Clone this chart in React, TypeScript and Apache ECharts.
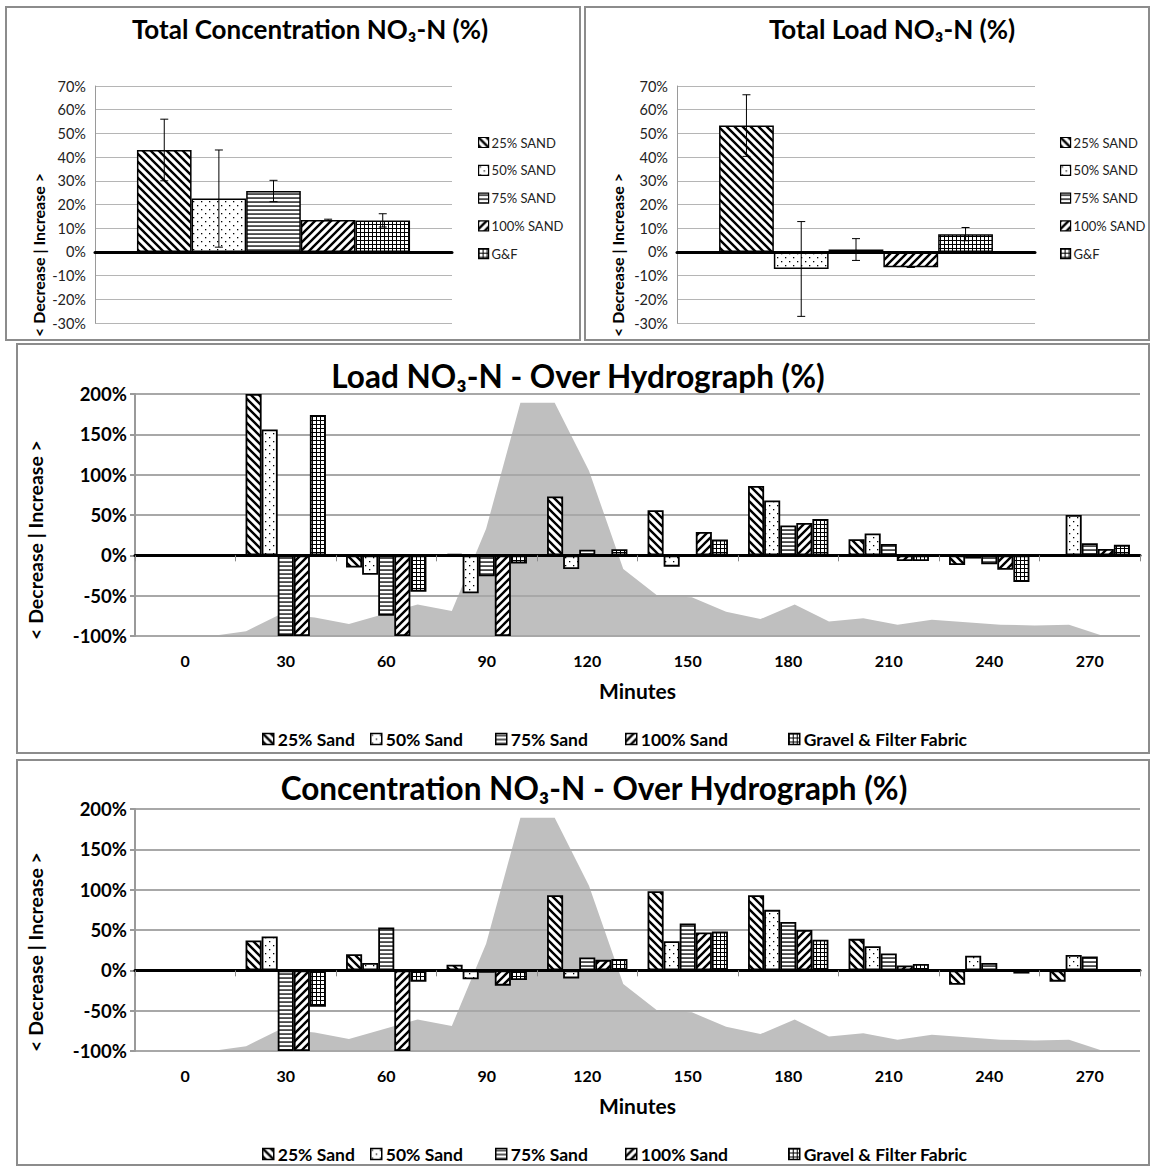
import React, { useEffect, useRef } from 'react';
import * as echarts from 'echarts';

// ---------- DATA ----------
const totalCategory = ['Total'];
const topNames = ['25% SAND', '50% SAND', '75% SAND', '100% SAND', 'G&F'];
const totalConc = [43, 22.5, 25.7, 13.5, 13.3];
const totalConcErr = [13, 20.5, 4.5, 0.3, 2.8];
const totalLoad = [53.3, -7.2, 1, -6.5, 7.5];
const totalLoadErr = [13, 20, 4.6, 0, 2.8];

const minutes = ['0', '30', '60', '90', '120', '150', '180', '210', '240', '270'];
const hydroNames = ['25% Sand', '50% Sand', '75% Sand', '100% Sand', 'Gravel & Filter Fabric'];

const load25 = [0, 200, -15, 2, 73, 56, 86, 20, -12, 0];
const load50 = [0, 156, -24, -47, -17, -14, 68, 27, -4, 50];
const load75 = [0, -100, -75, -26, 7, 0, 37, 14, -11, 15];
const load100 = [0, -100, -100, -100, 0, 29, 40, -7, -18, 8];
const loadGF = [0, 174, -45, -10, 7.5, 19.5, 45, -7, -33, 13];

const conc25 = [0, 37, 20, 7, 93, 98, 93, 39, -18, -14];
const conc50 = [0, 42, 9, -11, -10, 36, 75, 30, 18, 19];
const conc75 = [0, -100, 53, -3, 16, 58, 60, 21, 9, 17];
const conc100 = [0, -100, -100, -19, 13, 47, 50, 6, 0, -2];
const concGF = [0, -45, -14, -12, 14, 48, 38, 8, -4, -2];

// hydrograph (relative flow, drawn on the % scale), one sample per step
const hydrograph = [-100, -100, -100, -94, -73, -77, -85, -73, -61, -69, 33, 189, 189, 105, -17, -50, -52, -70, -79, -61, -82, -78, -86, -80, -83, -86, -87, -86, -100, -100];

// ---------- STYLE ----------
const FONT = 'Lato, "Open Sans", sans-serif';

function svgPattern(w: number, h: number, body: string) {
  const svg = `<svg xmlns="http://www.w3.org/2000/svg" width="${w}" height="${h}"><rect width="${w}" height="${h}" fill="#ffffff"/>${body}</svg>`;
  return {
    image: 'data:image/svg+xml;charset=utf-8,' + encodeURIComponent(svg),
    repeat: 'repeat',
    imageWidth: w,
    imageHeight: h,
  };
}

const patterns = [
  svgPattern(8, 8, '<path d="M-2,-2 L10,10 M-2,6 L2,10 M6,-2 L10,2" stroke="#000" stroke-width="2.4"/>'),
  svgPattern(8, 8, '<rect x="1" y="1" width="1.3" height="1.3" fill="#000"/><rect x="5" y="5" width="1.3" height="1.3" fill="#000"/>'),
  svgPattern(4, 4, '<rect x="0" y="1.4" width="4" height="1.3" fill="#000"/>'),
  svgPattern(8, 8, '<path d="M-2,10 L10,-2 M-2,2 L2,-2 M6,10 L10,6" stroke="#000" stroke-width="2.4"/>'),
  svgPattern(4, 4, '<rect x="0" y="0" width="4" height="1" fill="#000"/><rect x="0" y="0" width="1" height="4" fill="#000"/>'),
];

const TOP_GAP = 0.235;

function barSeries(names: string[], values: number[][], xi: number, yi: number, gap: string, bw: number) {
  return names.map((n, k) => ({
    type: 'bar',
    name: n,
    xAxisIndex: xi,
    yAxisIndex: yi,
    data: values[k],
    barGap: '0%',
    barCategoryGap: gap,
    z: 2,
    silent: true,
    itemStyle: { color: patterns[k], borderColor: '#000', borderWidth: bw },
  }));
}

function errorSeries(values: number[], errs: number[], xi: number, yi: number) {
  return {
    type: 'custom',
    xAxisIndex: xi,
    yAxisIndex: yi,
    z: 6,
    silent: true,
    data: values.map((v, i) => [0, v - errs[i], v + errs[i], i]),
    encode: { x: 0, y: [1, 2] },
    renderItem: (params: any, api: any) => {
      const i = api.value(3);
      const lo = api.coord([0, api.value(1)]);
      const hi = api.coord([0, api.value(2)]);
      const catW = api.size([1, 0])[0];
      const groupW = catW * (1 - TOP_GAP);
      const barW = groupW / 5;
      const cx = lo[0] - groupW / 2 + barW * (i + 0.5);
      const cap = 4;
      const st = { stroke: '#000', lineWidth: 1 };
      return {
        type: 'group',
        children: [
          { type: 'line', shape: { x1: cx, y1: lo[1], x2: cx, y2: hi[1] }, style: st },
          { type: 'line', shape: { x1: cx - cap, y1: hi[1], x2: cx + cap, y2: hi[1] }, style: st },
          { type: 'line', shape: { x1: cx - cap, y1: lo[1], x2: cx + cap, y2: lo[1] }, style: st },
        ],
      };
    },
  };
}

function hydroSeries(xi: number, yi: number) {
  return {
    type: 'line',
    name: 'Hydrograph',
    xAxisIndex: xi,
    yAxisIndex: yi,
    data: hydrograph.map((v, i) => [i, v]),
    showSymbol: false,
    symbol: 'none',
    silent: true,
    z: 0,
    lineStyle: { width: 0, color: '#bfbfbf' },
    itemStyle: { color: '#bfbfbf' },
    areaStyle: { color: '#bfbfbf', opacity: 1, origin: 'start' },
  };
}

function topXAxis(gi: number) {
  return {
    type: 'category',
    gridIndex: gi,
    data: totalCategory,
    axisLine: { onZero: true, lineStyle: { color: '#000', width: 3 } },
    axisTick: { show: false },
    axisLabel: { show: false },
    z: 10,
  };
}

function topYAxis(gi: number) {
  return {
    type: 'value',
    gridIndex: gi,
    min: -30,
    max: 70,
    interval: 10,
    z: 1,
    axisLine: { show: true, onZero: false, lineStyle: { color: '#9a9a9a', width: 1 } },
    axisTick: { show: false },
    axisLabel: { formatter: '{value}%', fontSize: 14.5, color: '#222', fontFamily: FONT, margin: 9 },
    splitLine: { lineStyle: { color: '#b5b5b5', width: 1 } },
  };
}

function bigXAxes(gi: number) {
  return [
    {
      type: 'category',
      gridIndex: gi,
      data: minutes,
      position: 'bottom',
      axisLine: { show: false, onZero: false },
      axisTick: { show: false },
      axisLabel: { fontSize: 16, fontWeight: 'bold', color: '#000', fontFamily: FONT, margin: 16 },
      name: 'Minutes',
      nameLocation: 'middle',
      nameGap: 44,
      nameTextStyle: { fontSize: 21, fontWeight: 'bold', color: '#000', fontFamily: FONT },
    },
    {
      type: 'category',
      gridIndex: gi,
      data: minutes,
      position: 'bottom',
      axisLine: { onZero: true, lineStyle: { color: '#000', width: 3 } },
      axisTick: { show: true, length: 6, lineStyle: { color: '#8a8a8a', width: 1 } },
      axisLabel: { show: false },
      z: 10,
    },
    {
      type: 'value',
      gridIndex: gi,
      min: -0.24,
      max: 29.07,
      show: false,
      axisLine: { onZero: false },
    },
  ];
}

function bigYAxis(gi: number) {
  return {
    type: 'value',
    gridIndex: gi,
    min: -100,
    max: 200,
    interval: 50,
    z: 1,
    axisLine: { show: true, onZero: false, lineStyle: { color: '#9a9a9a', width: 2 } },
    axisTick: { show: true, length: 5, lineStyle: { color: '#9a9a9a', width: 2 } },
    axisLabel: { formatter: '{value}%', fontSize: 18.5, fontWeight: 'bold', color: '#000', fontFamily: FONT, margin: 8 },
    splitLine: { lineStyle: { color: '#a8a8a8', width: 2 } },
  };
}

function yName(x: number, y: number, size: number) {
  return {
    type: 'text',
    x,
    y,
    rotation: Math.PI / 2,
    style: {
      text: '< Decrease | Increase >',
      font: `bold ${size}px ${FONT}`,
      fill: '#000',
      textAlign: 'center',
      textVerticalAlign: 'middle',
    },
  };
}

function panel(x: number, y: number, w: number, h: number) {
  return { type: 'rect', shape: { x, y, width: w, height: h }, style: { fill: 'none', stroke: '#8c8c8c', lineWidth: 2 }, z: -1 };
}

function topLegend(left: number) {
  return {
    data: topNames, orient: 'vertical', left, top: 131, itemWidth: 10, itemHeight: 10, itemGap: 14.8, icon: 'rect',
    itemStyle: { borderColor: '#000', borderWidth: 1.2 },
    textStyle: { fontSize: 13, color: '#222', fontFamily: FONT, padding: [0, 0, 0, -2] },
    selectedMode: false,
  };
}

// one legend per item so each entry sits where the reference puts it
const bigLegendIconX = [262, 370, 495, 625, 788];
function bigLegends(top: number) {
  return hydroNames.map((n, k) => ({
    data: [n], orient: 'horizontal', left: bigLegendIconX[k] - 5, top, itemWidth: 11, itemHeight: 11, icon: 'rect',
    itemStyle: { borderColor: '#000', borderWidth: 1.5 },
    textStyle: { fontSize: 17.5, fontWeight: 'bold', color: '#000', fontFamily: FONT, padding: [0, 0, 0, -1] },
    selectedMode: false,
  }));
}

export default function App() {
  const ref = useRef<HTMLDivElement>(null);
  useEffect(() => {
    if (!ref.current) return;
    const chart = echarts.init(ref.current, undefined, { renderer: 'svg' });
    const titleStyle = (s: number) => ({ fontSize: s, fontWeight: 'bold', color: '#000', fontFamily: FONT });
    const option: any = {
      animation: false,
      backgroundColor: '#fff',
      textStyle: { fontFamily: FONT },
      title: [
        { text: 'Total Concentration NO₃-N (%)', left: 305, top: 11, textAlign: 'center', textStyle: titleStyle(26) },
        { text: 'Total Load NO₃-N (%)', left: 887, top: 11, textAlign: 'center', textStyle: titleStyle(26) },
        { text: 'Load NO₃-N - Over Hydrograph (%)', left: 573, top: 355, textAlign: 'center', textStyle: titleStyle(31.5) },
        { text: 'Concentration NO₃-N - Over Hydrograph (%)', left: 589, top: 767, textAlign: 'center', textStyle: titleStyle(31.5) },
      ],
      grid: [
        { left: 95, top: 86, width: 357, height: 237 },
        { left: 677, top: 86, width: 358, height: 237 },
        { left: 135, top: 394, width: 1005, height: 242 },
        { left: 135, top: 809, width: 1005, height: 242 },
      ],
      legend: [topLegend(473), topLegend(1055), ...bigLegends(725), ...bigLegends(1140)],
      xAxis: [topXAxis(0), topXAxis(1), ...bigXAxes(2), ...bigXAxes(3)],
      yAxis: [topYAxis(0), topYAxis(1), bigYAxis(2), bigYAxis(3)],
      series: [
        ...barSeries(topNames, totalConc.map((v) => [v]), 0, 0, '23.5%', 1.5),
        errorSeries(totalConc, totalConcErr, 0, 0),
        ...barSeries(topNames, totalLoad.map((v) => [v]), 1, 1, '23.5%', 1.5),
        errorSeries(totalLoad, totalLoadErr, 1, 1),
        hydroSeries(4, 2),
        ...barSeries(hydroNames, [load25, load50, load75, load100, loadGF], 2, 2, '20%', 1.8),
        hydroSeries(7, 3),
        ...barSeries(hydroNames, [conc25, conc50, conc75, conc100, concGF], 5, 3, '20%', 1.8),
      ],
      graphic: [
        panel(6, 7, 574, 333),
        panel(585, 7, 564, 333),
        panel(17, 344, 1132, 409),
        panel(17, 760, 1132, 405),
        yName(38, 255, 16),
        yName(617, 255, 16),
        yName(35, 540, 19.5),
        yName(35, 952, 19.5),
      ],
    };
    chart.setOption(option);
    return () => chart.dispose();
  }, []);
  return <div ref={ref} style={{ position: 'absolute', left: 0, top: 0, width: 1152, height: 1168 }} />;
}
